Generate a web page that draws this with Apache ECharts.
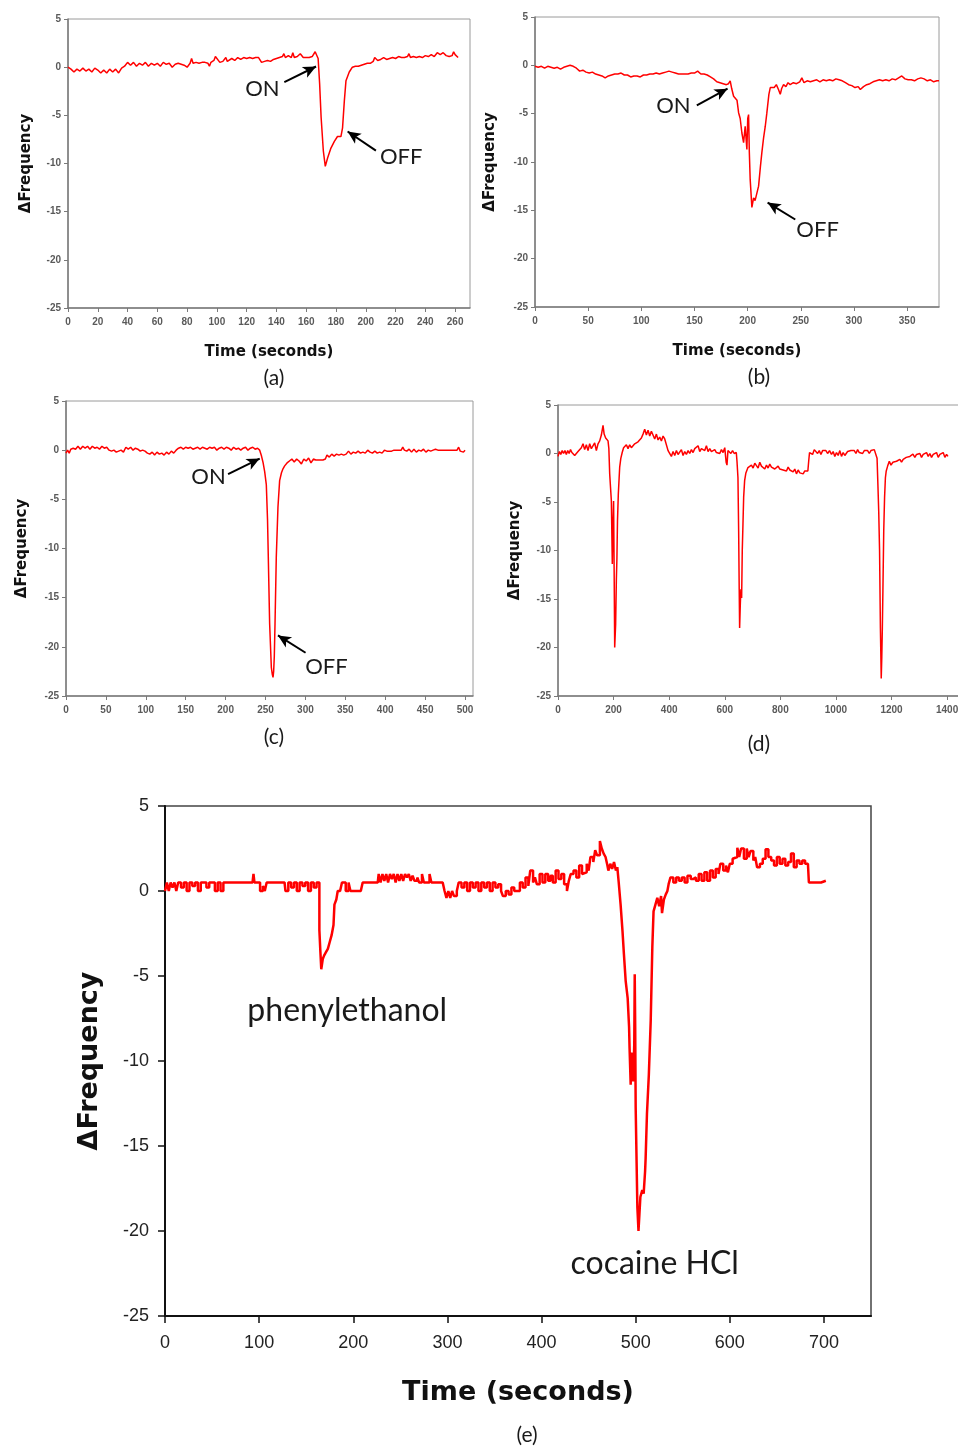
<!DOCTYPE html>
<html><head><meta charset="utf-8">
<script src="https://cdn.jsdelivr.net/npm/echarts@6/dist/echarts.min.js"></script>
<style>html,body{margin:0;padding:0;background:#fff}#c{width:958px;height:1449px}</style>
</head><body><div id="c"></div>
<script>
// ---------- data (time in s, ΔFrequency) ----------
const panelA = [[0,0],[2,-0.2],[4,-0.5],[6,-0.2],[8,-0.4],[10,-0.1],[12,-0.4],[14,-0.2],[16,-0.5],[18,-0.1],[20,-0.3],[22,-0.6],[24,-0.3],[26,-0.6],[28,-0.2],[30,-0.5],[32,-0.2],[34,-0.6],[36,-0.1],
[38,0.1],[40,0.5],[42,0.2],[44,0.5],[46,0.1],[48,0.4],[50,0.2],[52,0.5],[54,0.1],[56,0.4],[58,0.2],[60,0.4],[62,0.1],[64,0.5],[66,0.3],[68,0.4],[70,0.0],[72,0.3],[74,0.4],[76,0.3],[78,0.2],[80,0.0],[82,0.4],[83,0.9],[84,0.4],[86,0.5],[88,0.4],[90,0.5],[92,0.5],[94,0.4],[95,0.1],[96,0.5],[98,0.7],[99,1.1],[100,0.9],[102,0.5],[104,0.6],[106,1.0],[107,0.6],[108,0.5],[110,0.9],[112,0.7],[114,1.0],[116,0.8],[118,1.0],[120,0.9],[122,1.0],[124,0.9],[126,1.0],[128,1.0],[130,0.5],[132,0.6],[134,0.7],[136,0.6],[138,0.8],[140,0.9],[142,1.0],[144,1.1],[145,1.4],[146,1.0],[148,1.2],[150,1.0],[151,1.5],[152,1.0],[154,1.1],[156,1.4],[158,1.0],[160,1.0],[162,1.0],[164,1.1],[166,1.6],[167,1.4],[168,0.9],
[169,-1.7],[170,-5.2],[171.5,-8.7],[172.8,-10.3],[174.4,-9.4],[176.6,-8.4],[178.9,-7.7],[181,-7.2],[183.3,-7.2],[184.4,-6.3],[185.6,-3.5],[186.7,-1.4],[188.9,-0.5],[191,0],[193,0.1],[195,0.1],[197,0.2],[199,0.3],[201,0.4],[203,0.4],[205,0.6],[206,1.0],[208,0.7],[210,0.8],[212,1.0],[214,0.8],[216,0.9],[218,1.0],[220,0.9],[222,1.1],[224,1.0],[226,1.0],[228,1.1],[229,1.4],[230,1.0],[232,1.1],[234,1.0],[236,1.1],[238,1.0],[240,1.2],[242,1.1],[244,1.3],[246,1.1],[248,1.5],[250,1.3],[252,1.5],[254,1.2],[256,1.1],[258,1.2],[259,1.6],[260,1.3],[262,1.0]];

const panelB = [[0,-0.1],[3,-0.2],[6,-0.1],[9,-0.3],[12,-0.1],[15,-0.2],[18,-0.3],[21,-0.2],[24,-0.4],[27,-0.2],[30,-0.1],[33,0],[36,-0.1],[39,-0.3],[42,-0.6],[45,-0.5],[48,-0.7],[51,-0.8],[54,-0.7],[57,-0.9],[60,-1.0],[63,-1.1],[66,-1.3],[69,-1.1],[72,-1.0],[75,-0.9],[78,-0.9],[81,-0.8],[84,-1.0],[87,-1.0],[90,-1.2],[93,-1.1],[96,-1.1],[99,-1.2],[102,-1.0],[105,-1.0],[108,-0.9],[111,-0.9],[114,-0.8],[117,-0.9],[120,-0.8],[123,-0.7],[126,-0.6],[129,-0.7],[132,-0.8],[135,-0.9],[138,-0.9],[141,-0.9],[144,-0.9],[147,-0.8],[150,-0.8],[153,-0.6],[156,-0.9],[159,-0.9],[162,-1.0],[165,-1.2],[168,-1.4],[171,-1.7],[174,-1.8],[177,-1.9],[180,-2.0],[182,-1.9],[183.6,-1.6],[185,-2.4],[186.8,-3.2],[188,-3.0],[190,-3.6],[191.5,-4.9],[193,-5.5],[194.6,-7.0],[196.2,-8.0],[197.7,-6.3],[199.3,-8.7],[200.1,-5.5],[200.9,-5.1],[201.6,-9],[202.4,-11.8],[204,-14.7],[205.6,-13.7],[207,-14.0],[208,-14.2],[210.3,-12.5],[212,-10.5],[213.4,-9],[215,-7.5],[216.6,-6.3],[218,-5.0],[218.8,-4.2],[220,-3.0],[221.3,-2.3],[223,-2.1],[225,-2.3],[227,-2.0],[229,-2.5],[230.7,-3.0],[232,-2.4],[233.8,-2.0],[236,-2.2],[238,-1.8],[240,-2.0],[243,-1.8],[246,-1.9],[249,-1.7],[251,-1.3],[253,-1.8],[256,-1.6],[259,-1.7],[262,-1.6],[265,-1.5],[268,-1.7],[271,-1.5],[274,-1.6],[277,-1.5],[280,-1.6],[283,-1.4],[286,-1.5],[289,-1.6],[292,-1.8],[295,-2.0],[298,-2.1],[301,-2.3],[304,-2.2],[306,-2.5],[309,-2.2],[312,-2.0],[315,-1.9],[318,-1.7],[321,-1.6],[324,-1.5],[327,-1.6],[330,-1.5],[333,-1.6],[336,-1.4],[339,-1.5],[342,-1.3],[345,-1.1],[348,-1.4],[351,-1.5],[354,-1.5],[357,-1.6],[360,-1.4],[363,-1.3],[366,-1.4],[369,-1.6],[372,-1.5],[375,-1.7],[378,-1.6],[380,-1.6]];

const panelC = [[0,-0.3],[2,0.0],[4,-0.3],[6,0.1],[9,0.2],[12,0.1],[15,0.4],[18,0.1],[21,0.4],[24,0.2],[27,0.4],[30,0.1],[33,0.4],[36,0.2],[39,0.3],[42,0.1],[45,0.4],[48,0.2],[51,0.3],[54,0.0],[57,-0.1],[60,0.0],[63,-0.2],[66,-0.1],[69,0.0],[72,-0.2],[75,0.3],[78,0.1],[81,0.3],[84,0.0],[87,0.2],[90,0.1],[93,-0.1],[96,0.0],[99,-0.1],[102,-0.3],[105,-0.4],[108,-0.2],[111,-0.5],[114,-0.2],[117,-0.4],[120,-0.3],[123,-0.5],[126,-0.2],[129,-0.4],[132,-0.1],[135,-0.3],[138,0.0],[141,0.2],[144,0.3],[147,0.1],[150,0.3],[153,0.2],[156,0.3],[159,0.1],[162,0.2],[165,0.3],[168,0.1],[171,0.3],[174,0.2],[177,0.1],[180,0.3],[183,0.2],[186,0.3],[189,0.0],[192,0.2],[195,0.3],[198,0.1],[201,0.3],[204,0.2],[207,0.0],[210,0.3],[213,0.1],[216,0.2],[219,0.0],[222,0.2],[225,0.3],[228,0.0],[231,0.2],[234,0.3],[237,0.1],[240,0.2],[242.7,0.0],
[245,-0.6],[246.9,-1.25],[249,-2.2],[251,-3.5],[252.5,-7],[253.5,-10.9],[255.2,-17.7],[257.3,-22.1],[258.5,-22.8],[259.4,-23.1],[260.2,-22.5],[261,-21],[261.9,-17.7],[263.5,-10.9],[265.6,-5.8],[267.7,-3.1],[270,-2.3],[271.9,-1.9],[274,-1.6],[277,-1.3],[280,-1.1],[283,-0.9],[286,-1.2],[289,-0.9],[292,-1.1],[295,-1.4],[298,-0.9],[301,-1.1],[304,-0.8],[307,-1.3],[310,-0.9],[313,-1.0],[316,-1.0],[319,-1.0],[322,-1.0],[325,-0.9],[327,-0.5],[330,-0.7],[333,-0.4],[336,-0.6],[339,-0.4],[342,-0.5],[345,-0.4],[348,-0.5],[351,-0.4],[354,-0.1],[357,-0.4],[360,-0.2],[363,-0.3],[366,-0.1],[369,-0.3],[372,-0.2],[375,-0.3],[378,0.0],[381,-0.2],[384,-0.3],[387,-0.1],[390,-0.3],[393,-0.2],[396,-0.3],[399,0.0],[402,-0.1],[405,-0.1],[408,-0.1],[411,0.0],[414,0.0],[417,0.0],[420,0.0],[422,0.3],[424,0.0],[427,-0.1],[430,0.1],[433,-0.2],[436,0.1],[439,-0.2],[442,0.0],[445,-0.1],[448,0.1],[451,-0.2],[454,0.0],[457,-0.1],[460,0.0],[463,0.1],[466,0.0],[469,0.0],[472,0.0],[475,0.0],[478,0.0],[481,0.0],[484,0.0],[487,0.0],[490,0.0],[492,0.3],[494,-0.1],[496,0.1],[498,-0.2],[500,0.0]];

const panelD = [[0,-0.3],[5,0.2],[10,-0.1],[15,0.3],[20,0.0],[25,0.3],[30,-0.1],[35,0.3],[40,0.0],[45,0.4],[50,0.1],[55,0.2],[60,-0.2],[66,-0.4],[72,0.2],[78,0.3],[84,0.6],[90,1.0],[96,0.4],[102,0.9],[108,0.3],[114,1.0],[120,0.5],[126,0.6],[132,1.1],[138,0.3],[144,1.0],[150,1.3],[156,1.9],[162,2.9],[166,2.0],[171.5,1.6],[176,1.8],[180,1.3],[183,0.5],[186,-2.1],[189,-3.5],[192,-4.9],[195.4,-11.4],[197,-8],[200,-4.9],[202,-12],[204,-20],[207.4,-17.6],[210,-13],[212,-10.8],[214,-7],[217,-4.2],[220,-2.5],[222,-1.4],[226,-0.5],[231,0.1],[236,0.6],[240,0.8],[246,0.9],[252,0.5],[258,0.9],[264,0.6],[270,0.6],[276,1.0],[282,0.8],[288,1.2],[294,1.1],[300,1.6],[306,2.0],[312,2.5],[318,1.9],[324,2.4],[330,1.8],[336,2.3],[342,2.2],[348,1.5],[354,2.0],[360,1.4],[366,1.7],[372,1.3],[378,1.8],[384,1.5],[390,1.5],[396,0.3],[402,0.1],[408,-0.3],[414,0.2],[420,-0.2],[426,0.3],[432,-0.1],[438,0.1],[444,0.4],[450,-0.2],[456,0.2],[462,-0.1],[468,0.3],[474,0.0],[480,0.4],[486,0.1],[492,0.5],[498,0.4],[504,0.8],[510,0.2],[516,0.5],[522,0.7],[528,0.3],[534,0.8],[540,0.2],[546,0.5],[552,0.2],[558,0.3],[564,0.4],[570,0.1],[576,0.3],[582,0.0],[588,0.4],[594,0.1],[600,0.6],[603,-0.3],[605,-0.9],[608,-1.2],[611.5,0.3],[616,0.2],[622,0.0],[628,0.3],[634,0.0],[641.5,0.1],[644,-0.8],[647.5,-2.5],[650,-8],[652,-14],[653.5,-18],[656,-15.5],[658,-14],[660.7,-14.9],[663,-10],[665.5,-7.3],[668,-4.5],[671.5,-2.8],[676,-2.0],[683.5,-1.45],[690,-1.6],[696,-1.2],[702,-1.5],[708,-1.0],[714,-1.1],[720,-1.5],[726,-0.9],[732,-1.3],[738,-1.1],[744,-1.6],[750,-1.2],[756,-1.5],[762,-1.1],[768,-1.4],[774,-1.2],[780,-1.6],[786,-1.4],[792,-1.3],[798,-1.6],[804,-1.4],[810,-1.7],[816,-1.5],[822,-1.8],[828,-1.4],[834,-1.7],[840,-1.5],[846,-1.9],[852,-1.6],[858,-2.1],[864,-1.7],[870,-2.0],[876,-1.8],[882,-2.1],[888,-1.8],[894,-1.6],[899,-1.8],[902,-0.8],[905,0.1],[910,0.3],[916,-0.1],[922,0.4],[928,0.2],[934,0.0],[940,0.3],[946,-0.1],[952,0.3],[958,0.1],[964,0.3],[970,0.0],[977,0.3],[984,-0.1],[990,0.2],[996,-0.3],[1002,0.1],[1008,-0.2],[1014,0.3],[1020,-0.3],[1026,0.1],[1032,-0.2],[1037,-0.25],[1042,0.2],[1048,0.0],[1054,0.3],[1060,0.1],[1066,0.3],[1072,0.0],[1078,0.4],[1084,0.1],[1090,0.3],[1096,0.0],[1102,0.3],[1108,0.1],[1114,0.3],[1120,0.0],[1126,0.3],[1132,0.1],[1138,0.4],[1145,0.35],[1148,-0.5],[1151,-3.2],[1154,-6],[1157,-10],[1160,-18],[1163,-23.2],[1165,-21],[1167,-18],[1169,-14.2],[1172,-8],[1175,-4.55],[1178,-2.5],[1181,-1.8],[1186,-1.3],[1192,-0.8],[1198,-1.2],[1205,-0.9],[1212,-1.1],[1218,-0.8],[1224,-0.9],[1230,-0.6],[1236,-0.9],[1242,-0.6],[1248,-0.7],[1253,-0.4],[1260,-0.6],[1266,-0.3],[1272,-0.2],[1277,-0.07],[1284,-0.4],[1290,-0.1],[1296,-0.3],[1302,0.0],[1308,-0.4],[1314,-0.1],[1320,-0.3],[1326,0.1],[1332,-0.3],[1338,0.0],[1344,-0.4],[1350,-0.1],[1356,-0.3],[1362,0.1],[1368,-0.4],[1374,-0.1],[1380,-0.3],[1386,0.1],[1392,-0.4],[1398,-0.1],[1403,-0.3]];

const panelE = [[0,0],[2,0.5],[4,0],[6,0.5],[8,0.2],[10,0.5],[12,0],[14,0.5],[17,0.2],[20,0.5],[23,0],[26,0.5],[29,0.3],[32,0.5],[35,0],[38,0.5],[41,0.5],[44,0.2],[47,0.5],[50,0.5],[53,0],[56,0.5],[59,0],[62,0.5],[66,0.5],[70,0.5],[74,0.5],[78,0.5],[82,0.5],[86,0.5],[90,0.5],[93,0.5],[94,1.0],[95,0.5],[98,0.5],[100,0.5],[101,0],[104,0.3],[106,0],[108,0.5],[112,0.5],[116,0.5],[120,0.5],[124,0.5],[127,0.5],[128,0],[131,0.5],[134,0.2],[137,0.5],[140,0],[143,0.5],[146,0.3],[149,0.5],[152,0],[155,0.5],[158,0.2],[161,0.5],[163,0.5],
[164,-2.3],[165,-3.5],[166,-4.6],[167.6,-4.0],[169,-3.8],[171,-3.6],[173,-3.4],[175,-3.0],[177,-2.6],[179,-2.0],[180,-0.8],[182,-0.5],[183.5,0],[186,0],[188,0.5],[190,0.5],[192,0],[195,0.5],[197,0],[200,0],[204,0],[208,0],[210,0.5],[214,0.5],[218,0.5],[222,0.5],[226,0.5],[227,1.0],[229,0.5],[231,1.0],[233,0.6],[235,1.0],[237,0.5],[239,1.0],[241,0.7],[243,1.0],[245,0.5],[247,1.0],[249,0.6],[251,1.0],[253,0.6],[255,1.0],[257,0.8],[259,1.0],[261,0.6],[263,0.9],[265,0.6],[268,0.8],[270,0.5],[272,0.5],[273,1.0],[275,0.5],[278,0.5],[280,0.5],[281,1.0],[283,0.5],[287,0.5],[291,0.5],[295,0.5],[297,0],[299,-0.4],[301,0],[303,-0.4],[305,0],[307,-0.3],[310,0],[312,0.5],[315,0.2],[318,0.5],[321,0],[324,0.5],[327,0.2],[330,0.5],[333,0],[336,0.5],[339,0.2],[342,0.5],[345,0],[348,0.5],[351,0.2],[354,0.4],[357,0],[359,-0.3],[362,0],[365,-0.2],[368,0.2],[371,0],[374,0],[377,0.5],[380,0.2],[383,0.8],[386,0.3],[388,1.2],[391,0.5],[393,0.8],[395,0.4],[398,1.0],[401,0.5],[404,1.0],[407,0.6],[409.6,0.9],[412,0.5],[415,1.2],[418,0.7],[421,1.0],[424,0.4],[427,0],[429,0.6],[431,1.0],[434,1.2],[437,0.8],[440,1.5],[443,1.0],[445,1.1],[448,1.6],[450,1.2],[452,2.0],[455,1.7],[457,2.4],[459,2.1],[462,2.94],[464,2.5],[466,2.2],[468,2.0],[470,1.5],[471,1.2],[473,1.6],[475,1.3],[477,1.7],[479,1.2],[480.5,1.4],
[482,0.5],[484,-0.8],[486,-2.35],[487.5,-3.7],[489.4,-5.3],[491.5,-6.3],[493,-8],[493.5,-9.2],[494.7,-11.4],[495.5,-9.5],[496.5,-9.6],[497.5,-11.2],[498.5,-9],[499,-4.9],[499.5,-8],[500,-12.7],[501,-16],[501.8,-18.6],[503,-20],[504,-19],[505,-18],[507,-17.6],[508.5,-17.8],[510,-16.5],[510.6,-15.7],[512,-13.1],[514,-10.8],[516,-7.6],[517.7,-3.3],[519,-1.2],[521,-0.8],[523,-0.4],[525,-0.9],[527,-0.3],[528,-1.3],[530,-0.5],[532,-0.2],[533.7,0],[535,0.4],[537,0.8],[540,0.5],[543,0.8],[546,0.6],[549,0.8],[552,0.5],[555,0.9],[558.5,0.7],[561,0.8],[564,0.6],[567,1.0],[570,0.6],[573,1.1],[576,0.6],[579,1.2],[582,0.8],[585,1.3],[588,1.0],[590,1.6],[593,1.2],[596,1.5],[598,1.1],[600,1.6],[603,1.9],[605,2.0],[608,2.55],[610,2.0],[612,2.5],[615,1.9],[618,2.5],[620,2.0],[622,2.35],[625,1.8],[627,2.0],[629,1.4],[632,1.6],[635,1.9],[638,2.45],[641,2.0],[644,1.8],[647,1.5],[650,2.0],[653,1.6],[656,1.9],[659,1.5],[662,1.7],[665,2.2],[668,1.4],[671,1.8],[674,1.6],[677,1.8],[680,1.6],[683,1.7],[684,0.5],[688,0.5],[692,0.5],[697,0.5],[699,0.6],[702,0.6]];

// axis ranges
const xMaxes = [270, 380, 510, 1450, 750];
const xIntervals = [20, 50, 50, 200, 100];
const yMin = -25, yMax = 5, yInterval = 5;
const panelLabels = ['(a)', '(b)', '(c)', '(d)', '(e)'];
const xNames = ['Time (seconds)', 'Time (seconds)', '', '', 'Time (seconds)'];
const yName = 'ΔFrequency';

// annotations (data coordinates)
const notes = [
  [{t:'ON', at:[130.6,-2.3]}, {t:'OFF', at:[223.8,-9.36]}],
  [{t:'ON', at:[130.2,-4.21]}, {t:'OFF', at:[265.8,-16.98]}],
  [{t:'ON', at:[178.6,-2.72]}, {t:'OFF', at:[326.4,-22.07]}],
  [],
  [{t:'phenylethanol', at:[193.6,-7.06]}, {t:'cocaine HCl', at:[520.2,-21.9]}]
];
const arrows = [
  [[[145.3,-1.56],[166.6,0.07]], [[206.8,-8.66],[187.8,-6.68]]],
  [[[152.2,-4.14],[181.1,-2.41]], [[244.8,-15.95],[218.8,-14.2]]],
  [[[203.1,-2.44],[242.7,-0.85]], [[300.2,-20.6],[265.6,-18.84]]],
  [], []
];
const panels = [panelA, panelB, panelC, panelD, panelE];

// ---------- layout ----------
const grids = [
  {left:68, top:19, width:402, height:289},
  {left:535, top:17, width:404, height:290},
  {left:66, top:401, width:407, height:295},
  {left:558, top:405, width:403, height:291},
  {left:165, top:806, width:706, height:510}
];
const labelPos = [[274,378],[759,377],[274,737],[759,744],[527,1435]];
const yNameGaps = [34, 37, 36, 35, 62];
const xNameGaps = [37, 37, 37, 37, 63];

const chart = echarts.init(document.getElementById('c'), null, {renderer:'canvas'});
const big = i => i === 4;

const option = {
  backgroundColor: '#fff',
  animation: false,
  grid: grids.map((g, i) => Object.assign({
    show: true, backgroundColor: 'transparent',
    borderColor: big(i) ? '#444' : '#9a9a9a', borderWidth: big(i) ? 1.5 : 1,
    containLabel: false, outerBoundsMode: 'none'
  }, g)),
  xAxis: panels.map((_, i) => ({
    type: 'value', gridIndex: i, min: 0, max: xMaxes[i], interval: xIntervals[i],
    splitLine: {show: false},
    axisLine: {show: true, onZero: false, lineStyle: {color: big(i) ? '#111' : '#7a7a7a', width: big(i) ? 2 : 1.5}},
    axisTick: {show: true, inside: false, length: big(i) ? 7 : 4, lineStyle: {color: big(i) ? '#111' : '#7a7a7a', width: big(i) ? 1.5 : 1}},
    axisLabel: {
      showMaxLabel: false, margin: big(i) ? 18 : 9,
      formatter: v => String(v),
      fontFamily: 'Liberation Sans, Arial, sans-serif',
      fontSize: big(i) ? 18 : 10, fontWeight: big(i) ? 'normal' : 'bold',
      color: big(i) ? '#222' : '#5a5a5a'
    },
    name: xNames[i], nameLocation: 'middle', nameGap: xNameGaps[i],
    nameTextStyle: {fontFamily: 'DejaVu Sans, sans-serif', fontWeight: 'bold', fontSize: big(i) ? 27 : 15, color: '#111'}
  })),
  yAxis: panels.map((_, i) => ({
    type: 'value', gridIndex: i, min: yMin, max: yMax, interval: yInterval,
    splitLine: {show: false},
    axisLine: {show: true, onZero: false, lineStyle: {color: big(i) ? '#111' : '#7a7a7a', width: big(i) ? 2 : 1.5}},
    axisTick: {show: true, inside: false, length: big(i) ? 7 : 4, lineStyle: {color: big(i) ? '#111' : '#7a7a7a', width: big(i) ? 1.5 : 1}},
    axisLabel: {
      margin: big(i) ? 16 : 7,
      formatter: v => String(v),
      fontFamily: 'Liberation Sans, Arial, sans-serif',
      fontSize: big(i) ? 18 : 10, fontWeight: big(i) ? 'normal' : 'bold',
      color: big(i) ? '#222' : '#5a5a5a'
    },
    name: yName, nameLocation: 'middle', nameGap: yNameGaps[i], nameRotate: 90,
    nameTextStyle: {fontFamily: 'DejaVu Sans, sans-serif', fontWeight: 'bold', fontSize: big(i) ? 27 : 15, color: '#111'}
  })),
  series: panels.map((data, i) => ({
    type: 'line', xAxisIndex: i, yAxisIndex: i, data: data,
    symbol: 'none', showSymbol: false, silent: true,
    step: big(i) ? 'end' : false,
    lineStyle: {color: '#ff0000', width: big(i) ? 2.5 : 1.5},
    itemStyle: {color: '#ff0000'},
    markLine: {
      silent: true, animation: false,
      symbol: ['none', 'arrow'], symbolSize: [9, 13],
      label: {show: false},
      lineStyle: {color: '#000', width: 2, type: 'solid'},
      data: arrows[i].map(([p, q]) => [{coord: p}, {coord: q}])
    },
    markPoint: {
      silent: true, animation: false,
      symbol: 'circle', symbolSize: 1,
      itemStyle: {color: 'rgba(0,0,0,0)'},
      label: {
        show: true, position: 'inside', color: '#1a1a1a',
        fontFamily: 'Lato, sans-serif', fontSize: big(i) ? 32 : 22,
        formatter: p => p.name
      },
      data: notes[i].map(n => ({name: n.t, coord: n.at}))
    }
  })),
  graphic: panelLabels.map((t, i) => ({
    type: 'text', x: labelPos[i][0], y: labelPos[i][1], silent: true,
    style: {text: t, fill: '#1a1a1a', font: '21px Lato, sans-serif',
            align: 'center', verticalAlign: 'middle', textAlign: 'center', textVerticalAlign: 'middle'}
  }))
};
chart.setOption(option);
</script></body></html>
